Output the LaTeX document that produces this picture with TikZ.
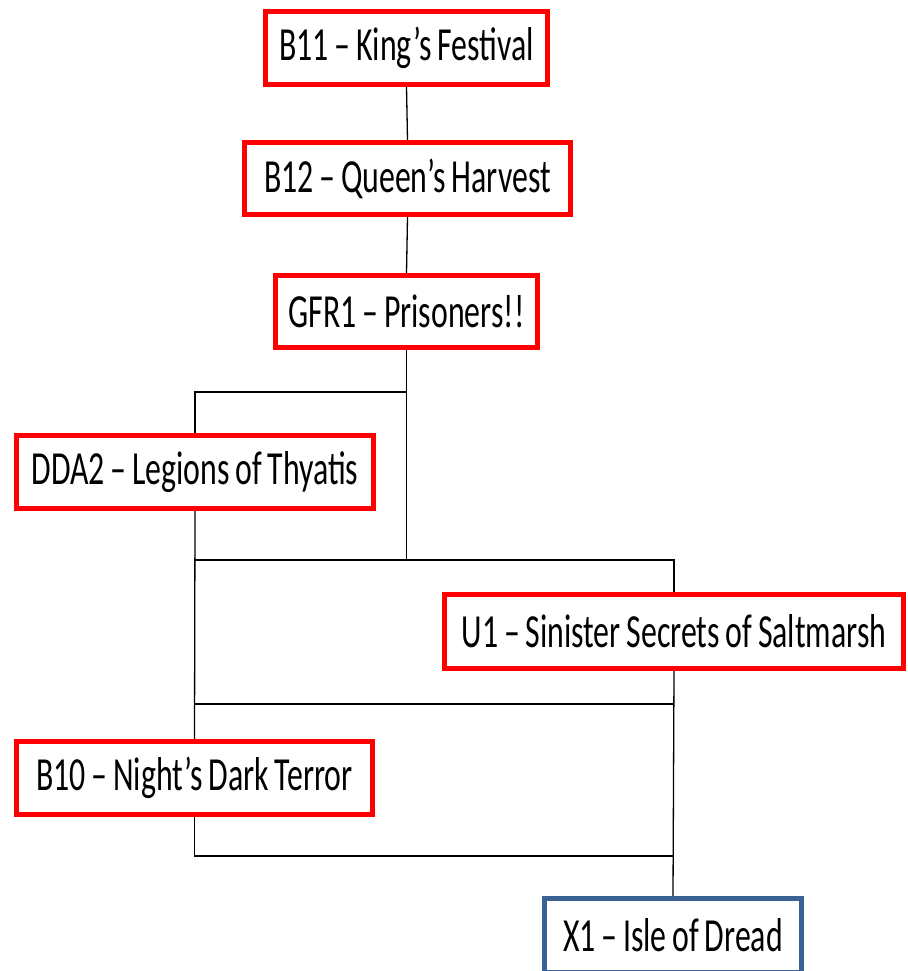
\documentclass[tikz,border=0pt]{standalone}
\usepackage{fontspec}
\setmainfont{Carlito}[FakeStretch=0.67, WordSpace=0.8]
\definecolor{boxred}{RGB}{255,0,0}
\definecolor{boxblue}{RGB}{58,98,148}
\tikzset{
  gamebox/.style={draw=boxred, line width=5pt, fill=white, rectangle, inner sep=0pt,
    font=\fontsize{47.5}{50}\selectfont, text=black},
  bluebox/.style={gamebox, draw=boxblue},
  link/.style={draw=black, line width=1.3pt}
}
\begin{document}
\begin{tikzpicture}[x=1pt,y=-1pt]
\useasboundingbox (0,0) rectangle (907,971);
\node[gamebox, minimum width=282pt, minimum height=73pt] (b11) at (406.5,48) {B11 – King’s Festival};
\node[gamebox, minimum width=326pt, minimum height=72pt] (b12) at (407.5,178.5) {B12 – Queen’s Harvest};
\node[gamebox, minimum width=262pt, minimum height=72pt] (gfr) at (406.5,311.5) {GFR1 – Prisoners!!};
\node[gamebox, minimum width=357pt, minimum height=73pt] (dda) at (195,472) {DDA2 – Legions of Thyatis};
\node[gamebox, minimum width=459pt, minimum height=74pt] (u1) at (674,631.5) {U1 – Sinister Secrets of Saltmarsh};
\node[gamebox, minimum width=356pt, minimum height=73pt] (b10) at (194.5,778) {B10 – Night’s Dark Terror};
\node[bluebox, minimum width=257pt, minimum height=74pt] (x1) at (673,935.5) {X1 – Isle of Dread};

\coordinate (jA) at (406.5,560);
\coordinate (jB) at (406.5,392);
\coordinate (jL1) at (195,560);
\coordinate (jL2) at (195,704);
\coordinate (jR2) at (674,704);
\coordinate (jR3) at (674,856);

\draw[link] (b11.south) -- (b12.north);
\draw[link] (b12.south) -- (gfr.north);
\draw[link] (gfr.south) -- (jA);
\draw[link] (jB) -| (dda.north);
\draw[link] (dda.south) -- (b10.north);
\draw[link] (jL1) -| (u1.north);
\draw[link] (jL2) -- (jR2);
\draw[link] (u1.south) -- (x1.north);
\draw[link] (b10.south) |- (jR3);
\end{tikzpicture}
\end{document}
